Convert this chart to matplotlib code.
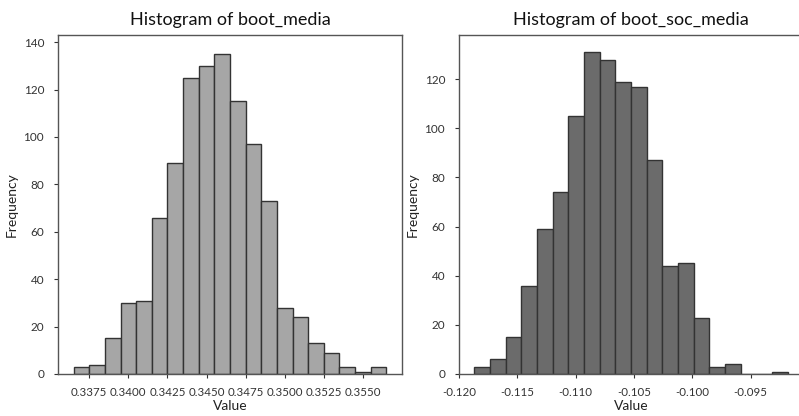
import numpy as np
import matplotlib
matplotlib.use("Agg")
import matplotlib.pyplot as plt

# ---- data ----
media_edges_start = 0.3365
media_bin_width = 0.001
media_counts = [3, 4, 15, 30, 31, 66, 89, 125, 130, 135, 115, 97, 73, 28, 24, 13, 9, 3, 1, 3]
media_ticks = [0.3375, 0.3400, 0.3425, 0.3450, 0.3475, 0.3500, 0.3525, 0.3550]

soc_edges_start = -0.11868
soc_bin_width = 0.001344
soc_counts = [3, 6, 15, 36, 59, 74, 105, 131, 128, 119, 117, 87, 44, 45, 23, 3, 4, 0, 0, 1]
soc_ticks = [-0.120, -0.115, -0.110, -0.105, -0.100, -0.095]

titles = ["Histogram of boot_media", "Histogram of boot_soc_media"]
xlabel = "Value"
ylabel = "Frequency"

plt.rcParams['font.family'] = ['Lato', 'DejaVu Sans']

fig = plt.figure(figsize=(7.99, 4.16), dpi=100)
ax1 = fig.add_axes([58/799, 42/416, 344/799, 339/416])
ax2 = fig.add_axes([459/799, 42/416, 344/799, 339/416])

def draw(ax, start, width, counts, fill, ticks, fmt, title, ylim, xlim):
    counts = np.asarray(counts, dtype=float)
    edges = start + width * np.arange(len(counts) + 1)
    centers = (edges[:-1] + edges[1:]) / 2
    ax.hist(centers, bins=edges, weights=counts, color=fill, edgecolor='#333333', linewidth=1.0)
    ax.set_xticks(ticks)
    ax.set_xticklabels([fmt.format(t) for t in ticks])
    ax.set_xlim(*xlim)
    ax.set_ylim(*ylim)
    ax.set_title(title, fontsize=13, pad=7, color='#111111')
    ax.set_xlabel(xlabel, fontsize=10, labelpad=1.5, color='#222222')
    ax.set_ylabel(ylabel, fontsize=10, labelpad=4, color='#222222')
    ax.tick_params(axis='x', labelsize=8.3, colors='#333333', length=3, width=0.8, pad=6)
    ax.tick_params(axis='y', labelsize=8.5, colors='#333333', length=3, width=0.8, pad=7)
    for sp in ax.spines.values():
        sp.set_color('#555555')
        sp.set_linewidth(1.0)

draw(ax1, media_edges_start, media_bin_width, media_counts, '#a6a6a6', media_ticks,
     '{:.4f}', titles[0], (0, 143), (0.3355, 0.3575))
draw(ax2, soc_edges_start, soc_bin_width, soc_counts, '#6b6b6b', soc_ticks,
     '{:.3f}', titles[1], (0, 138), (-0.120, -0.0905))
ax1.set_yticks([0, 20, 40, 60, 80, 100, 120, 140])
ax2.set_yticks([0, 20, 40, 60, 80, 100, 120])

fig.savefig("out.png", dpi=100)
